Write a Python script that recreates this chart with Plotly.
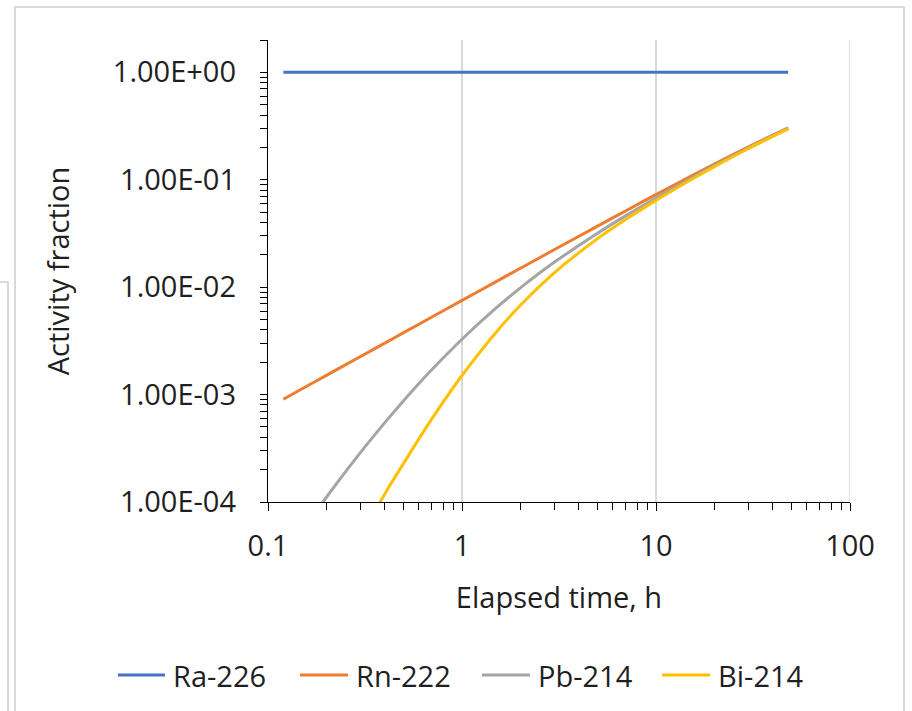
import plotly.graph_objects as go

# ---------------- data ----------------
time_h = [0.12, 0.15, 0.2, 0.3, 0.4, 0.5, 0.7, 1, 1.5, 2, 3, 5, 7, 10, 15, 20, 30, 48]
ra226 = [1.0, 1.0, 1.0, 1.0, 1.0, 1.0, 1.0, 1.0, 1.0, 1.0, 1.0, 1.0, 1.0, 1.0, 1.0, 1.0, 1.0, 1.0]
rn222 = [9.060e-4, 1.132e-3, 1.510e-3, 2.264e-3, 3.017e-3, 3.770e-3, 5.274e-3, 7.525e-3,
         1.127e-2, 1.499e-2, 2.241e-2, 3.706e-2, 5.150e-2, 7.275e-2, 0.1071, 0.1402, 0.2028, 0.3041]
pb214 = [3.01e-5, 5.38e-5, 1.107e-4, 2.894e-4, 5.486e-4, 8.781e-4, 1.710e-3, 3.277e-3,
         6.400e-3, 9.849e-3, 1.712e-2, 3.181e-2, 4.633e-2, 6.769e-2, 0.1022, 0.1355, 0.1984, 0.3003]
bi214 = [None, None, None, 4.67e-5, 1.190e-4, 2.291e-4, 5.967e-4, 1.505e-3,
         3.812e-3, 6.782e-3, 1.368e-2, 2.830e-2, 4.286e-2, 6.431e-2, 0.0990, 0.1324, 0.1955, 0.2978]

series_names = ["Ra-226", "Rn-222", "Pb-214", "Bi-214"]
series_colors = ["#4472C4", "#ED7D31", "#A5A5A5", "#FFC000"]

y_tick_vals = [1e-4, 1e-3, 1e-2, 1e-1, 1.0]
y_tick_text = ["1.00E-04", "1.00E-03", "1.00E-02", "1.00E-01", "1.00E+00"]
x_tick_vals = [0.1, 1, 10, 100]
x_tick_text = ["0.1", "1", "10", "100"]

# ---------------- figure ----------------
W, H = 912, 711
ML, MR, MT, MB = 268, 62, 40, 209
FONT = "Open Sans"
FS = 29
TXT = "#1f1f1f"
GRID = "#d9d9d9"

fig = go.Figure()
for name, yv, col in zip(series_names, [ra226, rn222, pb214, bi214], series_colors):
    fig.add_trace(go.Scatter(
        x=time_h, y=yv, name=name, mode="lines",
        line=dict(color=col, width=3, shape="spline", smoothing=0.8),
        connectgaps=False, showlegend=False,
    ))

pw = W - ML - MR
ph = H - MT - MB


def px_x(px):
    return (px - ML) / pw


def px_y(py):
    return 1 - (py - MT) / ph


frame_col = "#d9d9d9"
shapes = [
    dict(type="rect", xref="paper", yref="paper",
         x0=px_x(15), x1=px_x(904), y0=px_y(7), y1=px_y(730),
         line=dict(color=frame_col, width=2), layer="below"),
    dict(type="path", xref="paper", yref="paper",
         path=f"M {px_x(-5)},{px_y(282)} L {px_x(8)},{px_y(282)} L {px_x(8)},{px_y(730)}",
         line=dict(color=frame_col, width=2), layer="below"),
    # major gridline at the last x tick (plotly omits it at the range edge)
    dict(type="line", xref="x", yref="paper", x0=x_tick_vals[-1], x1=x_tick_vals[-1],
         y0=0, y1=1, line=dict(color=GRID, width=1.5), layer="below"),
]

# legend drawn as line samples + labels (horizontal, below the x-axis title)
legend_line_x = [(118, 165), (300, 348), (482, 530), (662, 710)]
legend_y = 675
annotations = []
for (x0, x1), name, col in zip(legend_line_x, series_names, series_colors):
    shapes.append(dict(type="line", xref="paper", yref="paper",
                       x0=px_x(x0), x1=px_x(x1), y0=px_y(legend_y), y1=px_y(legend_y),
                       line=dict(color=col, width=3)))
    annotations.append(dict(xref="paper", yref="paper", x=px_x(x1 + 6), y=px_y(legend_y),
                            xanchor="left", yanchor="middle", text=name, showarrow=False,
                            font=dict(family=FONT, size=FS, color=TXT)))

fig.update_layout(
    width=W, height=H, autosize=False,
    margin=dict(l=ML, r=MR, t=MT, b=MB),
    paper_bgcolor="white", plot_bgcolor="white",
    font=dict(family=FONT, size=FS, color=TXT),
    shapes=shapes, annotations=annotations,
    showlegend=False,
)

fig.update_xaxes(
    type="log", range=[-1, 2],
    tickmode="array", tickvals=x_tick_vals, ticktext=x_tick_text,
    ticks="outside", ticklen=8, tickwidth=1.3, tickcolor="black",
    showline=True, linecolor="black", linewidth=1.3,
    showgrid=True, gridcolor=GRID, gridwidth=1.5,
    zeroline=False, ticklabelstandoff=10,
    minor=dict(ticks="outside", ticklen=7, tickwidth=1.3, tickcolor="black",
               dtick="D1", showgrid=False),
    title=dict(text="Elapsed time, h", standoff=24, font=dict(size=FS, color=TXT)),
    automargin=False,
)
fig.update_yaxes(
    type="log", range=[-4, 0.30103],
    tickmode="array", tickvals=y_tick_vals, ticktext=y_tick_text,
    ticks="outside", ticklen=7, tickwidth=1.3, tickcolor="black",
    showline=True, linecolor="black", linewidth=1.3,
    showgrid=False, zeroline=False, ticklabelstandoff=18,
    minor=dict(ticks="outside", ticklen=7, tickwidth=1.3, tickcolor="black",
               dtick="D1", showgrid=False),
    title=dict(text="Activity fraction", standoff=34, font=dict(size=FS, color=TXT)),
    automargin=False,
)

fig.write_html("out.html", config={"displayModeBar": False},
               post_script="document.body.style.margin='0';")
